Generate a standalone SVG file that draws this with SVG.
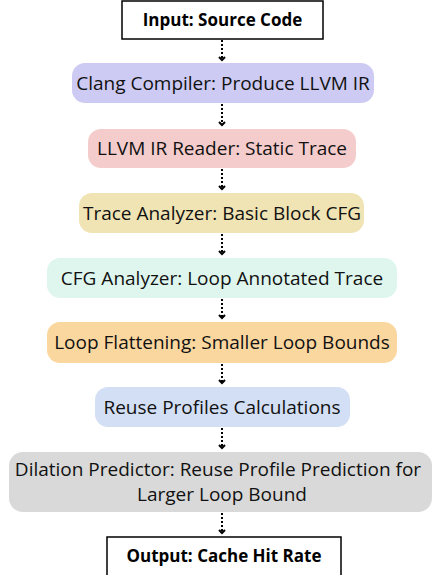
<svg xmlns="http://www.w3.org/2000/svg" width="432" height="575" viewBox="0 0 432 575">
<defs>
<style>
.t{font-family:"Open Sans","Liberation Sans",sans-serif;font-size:19px;fill:#111;text-anchor:middle}
.b{font-family:"Open Sans","Liberation Sans",sans-serif;font-size:17px;font-weight:bold;fill:#000;text-anchor:middle}
.box{fill:#fff;stroke:#000;stroke-width:1.5}
.c{stroke:#000;stroke-width:2;stroke-dasharray:2 2;fill:none}
.h{stroke:#000;stroke-width:2;fill:none}
</style>
</defs>
<rect width="432" height="575" fill="#fff"/>
<g id="connectors">
<path class="c" d="M222 40V60"/><path class="h" d="M219 57l3 3 3-3"/>
<path class="c" d="M222 104V125"/><path class="h" d="M219 122l3 3 3-3"/>
<path class="c" d="M222 169V189"/><path class="h" d="M219 186l3 3 3-3"/>
<path class="c" d="M222 234V254"/><path class="h" d="M219 251l3 3 3-3"/>
<path class="c" d="M222 299V318"/><path class="h" d="M219 315l3 3 3-3"/>
<path class="c" d="M222 364V383"/><path class="h" d="M219 380l3 3 3-3"/>
<path class="c" d="M222 428V448"/><path class="h" d="M219 445l3 3 3-3"/>
<path class="c" d="M222 513V533"/><path class="h" d="M219 530l3 3 3-3"/>
</g>
<g id="input"><rect class="box" x="122" y="1" width="201" height="38"/><text class="b" x="222.5" y="26">Input: Source Code</text></g>
<g id="clang"><rect x="72" y="63" width="302" height="40" rx="13" fill="#cdcbf4"/><text class="t" x="223" y="89.5">Clang Compiler: Produce LLVM IR</text></g>
<g id="reader"><rect x="88" y="129" width="268" height="39" rx="13" fill="#f5cccc"/><text class="t" x="222" y="155">LLVM IR Reader: Static Trace</text></g>
<g id="trace"><rect x="79" y="193" width="285" height="40" rx="13" fill="#f0e4b4"/><text class="t" x="222" y="219.5">Trace Analyzer: Basic Block CFG</text></g>
<g id="cfg"><rect x="47" y="258" width="350" height="40" rx="13" fill="#dff6ee"/><text class="t" x="222" y="284.5">CFG Analyzer: Loop Annotated Trace</text></g>
<g id="flatten"><rect x="47" y="322" width="350" height="41" rx="13" fill="#fbd7a0"/><text class="t" x="222" y="348.5">Loop Flattening: Smaller Loop Bounds</text></g>
<g id="reuse"><rect x="95" y="387" width="255" height="40" rx="13" fill="#d3dff4"/><text class="t" x="222" y="413.5">Reuse Profiles Calculations</text></g>
<g id="dilation"><rect x="9" y="452" width="423" height="60" rx="14" fill="#d9d9d9"/><text class="t" x="218" y="476">Dilation Predictor: Reuse Profile Prediction for</text><text class="t" x="222" y="501">Larger Loop Bound</text></g>
<g id="output"><rect class="box" x="107" y="537" width="234" height="45"/><text class="b" x="224" y="562">Output: Cache Hit Rate</text></g>
</svg>
